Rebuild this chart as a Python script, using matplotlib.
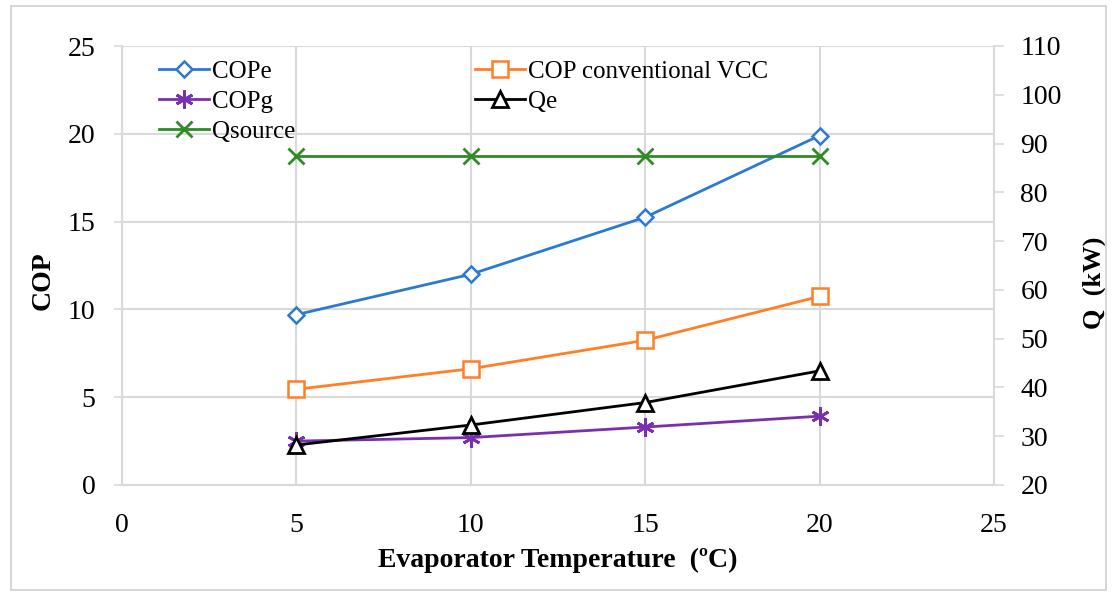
import matplotlib
matplotlib.use("Agg")
import matplotlib.pyplot as plt
from matplotlib.patches import Rectangle

plt.rcParams['font.family'] = ['Liberation Serif', 'DejaVu Serif']

# ---- data ----
temps = [5, 10, 15, 20]
cop_e = [9.7, 12.0, 15.25, 19.9]
cop_vcc = [5.45, 6.62, 8.24, 10.74]
cop_g = [2.5, 2.7, 3.3, 3.92]
q_e = [28.2, 32.3, 36.9, 43.4]
q_source = [87.5, 87.5, 87.5, 87.5]

x_ticks = [0, 5, 10, 15, 20, 25]
cop_ticks = [0, 5, 10, 15, 20, 25]
q_ticks = [20, 30, 40, 50, 60, 70, 80, 90, 100, 110]

W, H = 1115, 596
fig = plt.figure(figsize=(W / 100, H / 100), dpi=100)
fig.patches.append(Rectangle((11 / W, 6 / H), (1106 - 11) / W, (590 - 6) / H,
                             transform=fig.transFigure, fill=False,
                             edgecolor='#d0d0d0', linewidth=1.2))

AX_L, AX_R, AX_T, AX_B = 122, 994, 46, 485
ax = fig.add_axes([AX_L / W, 1 - AX_B / H, (AX_R - AX_L) / W, (AX_B - AX_T) / H])
ax2 = ax.twinx()

grid_c = '#d9d9d9'
c_blue = '#2a7ad2'
c_orange = '#ff7f27'
c_purple = '#7a2fb0'
c_green = '#2e8b26'

l1, = ax.plot(temps, cop_e, color=c_blue, lw=2.0, marker='D', ms=8.5,
              mfc='white', mec=c_blue, mew=1.8, label='COPe')
l2, = ax.plot(temps, cop_vcc, color=c_orange, lw=2.0, marker='s', ms=11,
              mfc='white', mec=c_orange, mew=1.8, label='COP conventional VCC')
l3, = ax.plot(temps, cop_g, color=c_purple, lw=2.0, marker=(6, 2, 0), ms=13,
              mec=c_purple, mew=2.0, label='COPg')
l4, = ax2.plot(temps, q_e, color='black', lw=2.0, marker='^', ms=11,
               mfc='white', mec='black', mew=2.0, label='Qe')
l5, = ax2.plot(temps, q_source, color=c_green, lw=2.0, marker='x', ms=11,
               mec=c_green, mew=2.0, label='Qsource')

ax.set_xlim(0, 25)
ax.set_ylim(0, 25)
ax2.set_ylim(20, 110)
ax.set_xticks(x_ticks)
ax.set_yticks(cop_ticks)
ax2.set_yticks(q_ticks)

ax.grid(True, color=grid_c, lw=1.5)
ax.set_axisbelow(True)
for a in (ax, ax2):
    for s in a.spines.values():
        s.set_visible(False)
for s in (ax.spines['left'], ax.spines['bottom'], ax2.spines['right']):
    s.set_visible(True)
    s.set_color(grid_c)
    s.set_linewidth(1.5)

ax.tick_params(axis='y', length=6, width=1.2, color=grid_c, pad=13, labelsize=20)
ax.tick_params(axis='x', length=0, pad=20, labelsize=20)
ax2.tick_params(axis='y', length=7, width=1.2, color=grid_c, pad=12, labelsize=20)

ax.set_xlabel('Evaporator Temperature  (ºC)', fontsize=20, fontweight='bold', labelpad=7)
ax.set_ylabel('COP', fontsize=20, fontweight='bold')
ax2.set_ylabel('Q  (kW)', fontsize=19, fontweight='bold', rotation=90)
span_x = AX_R - AX_L
span_y = AX_B - AX_T
ax.yaxis.set_label_coords((56 - AX_L) / span_x, (AX_B - 281) / span_y)
ax2.yaxis.set_label_coords((1083 - AX_L) / span_x, (AX_B - 283) / span_y)

handles = [l1, l3, l5, l2, l4]
leg = ax2.legend(handles, [h.get_label() for h in handles], ncol=2,
                 loc='upper left', bbox_to_anchor=(0.042, 0.968), frameon=False,
                 fontsize=18, handlelength=2.0, handletextpad=0.12,
                 columnspacing=7.2, labelspacing=0.3, borderaxespad=0.0,
                 borderpad=0.0)

fig.savefig('out.png', dpi=100)
